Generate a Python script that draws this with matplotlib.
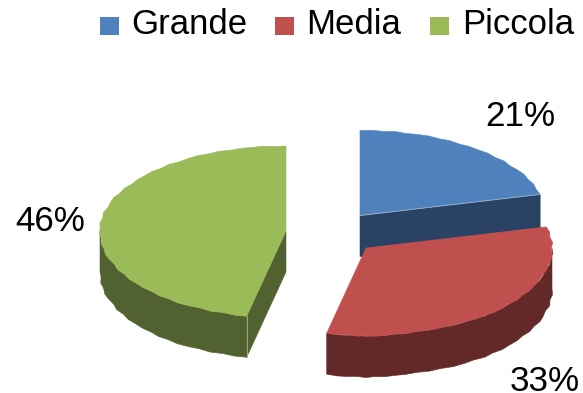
import numpy as np
import matplotlib
matplotlib.use("Agg")
import matplotlib.pyplot as plt
from matplotlib.patches import Polygon, Rectangle

plt.rcParams['font.family'] = ['Liberation Sans', 'DejaVu Sans']

categories = ["Grande", "Media", "Piccola"]
shares = [21, 33, 46]
top_colors = ["#4F81BD", "#C0504D", "#9BBB59"]
wall_colors = ["#2A4364", "#632928", "#526130"]

# Exploded position of each slice's apex on the canvas
apex_x = [360, 366, 286]
apex_y = [215.5, 248, 231]
RX, RY_BACK, RY_FRONT, DEPTH = 186, 85, 88, 41
ROUGHNESS = [0.000, 0.005, -0.003, 0.006, -0.004, 0.002, 0.006, -0.002, 0.004, -0.004, 0.002]

fig = plt.figure(figsize=(5.83, 3.93), dpi=100)
ax = fig.add_axes([0, 0, 1, 1])
ax.set_xlim(0, 583)
ax.set_ylim(393, 0)
ax.axis("off")


def rim(i, t0, t1):
    """Outer edge of slice i between two clockwise angles (degrees from 12 o'clock)."""
    n = max(int((t1 - t0) / 3.5), 2)
    ts = np.linspace(t0, t1, n + 1)
    rough = np.array([ROUGHNESS[k % len(ROUGHNESS)] for k in range(n + 1)])
    rough[0] = rough[-1] = 0
    r = 1 + rough
    rad = np.radians(ts)
    # The tilted view pulls the edge in horizontally close to the front of the pie
    front = np.clip(-np.cos(rad), 0, 1) ** 16
    ry = np.where(np.cos(rad) < 0, RY_FRONT, RY_BACK)
    return np.column_stack((apex_x[i] + RX * r * np.sin(rad) * (1 - 0.25 * front),
                            apex_y[i] - ry * r * np.cos(rad)))


def add_poly(pts, color, z, edge=None):
    ax.add_patch(Polygon(pts, closed=True, facecolor=color, zorder=z,
                         edgecolor=edge or color, linewidth=0.4))


starts = np.cumsum([0] + shares[:-1]) * 3.6
ends = np.cumsum(shares) * 3.6
down = np.array([0, DEPTH])
draw_order = {0: 1, 2: 2, 1: 3}

for i, (t0, t1) in enumerate(zip(starts, ends)):
    z = draw_order[i] * 10
    apex = np.array([apex_x[i], apex_y[i]])
    edge = rim(i, t0, t1)

    # Visible cut faces of the slice
    if i == 0:
        add_poly([apex, edge[-1], edge[-1] + down, apex + down], wall_colors[i], z)
    if i == 2:
        add_poly([apex, edge[0], edge[0] + down, apex + down], wall_colors[i], z)

    # Curved outer wall, only on the side facing the viewer
    lo, hi = max(t0, 90), min(t1, 270)
    if hi > lo:
        arc = rim(i, lo, hi)
        add_poly(np.vstack((arc, (arc + down)[::-1])), wall_colors[i], z + 1)

    # Top surface
    add_poly(np.vstack((apex, edge)), top_colors[i], z + 2)

    # Pale highlight along the front corners
    if i == 0:
        ax.plot([apex[0], edge[-1][0]], [apex[1], edge[-1][1]],
                color="#9DB4D0", lw=0.6, zorder=z + 3)
    if i == 2:
        ax.plot([edge[0][0]] * 2, [edge[0][1], edge[0][1] + DEPTH],
                color="#A9B48F", lw=0.6, zorder=z + 3)

# Percentage labels beside each slice
label_x = [520, 545, 50]
label_y = [126, 391, 231]
for share, x, y in zip(shares, label_x, label_y):
    ax.text(x, y, f"{share}%", fontsize=25.2, ha="center", va="baseline",
            color="black", zorder=50)

# Legend row along the top
swatch_x = [100, 275, 430]
name_x = [131, 306, 462]
for name, color, sx, tx in zip(categories, top_colors, swatch_x, name_x):
    ax.add_patch(Rectangle((sx, 17), 19, 18, facecolor=color, edgecolor="none"))
    ax.text(tx, 34, name, fontsize=25, ha="left", va="baseline", color="black")

fig.savefig("out.png", dpi=100)
